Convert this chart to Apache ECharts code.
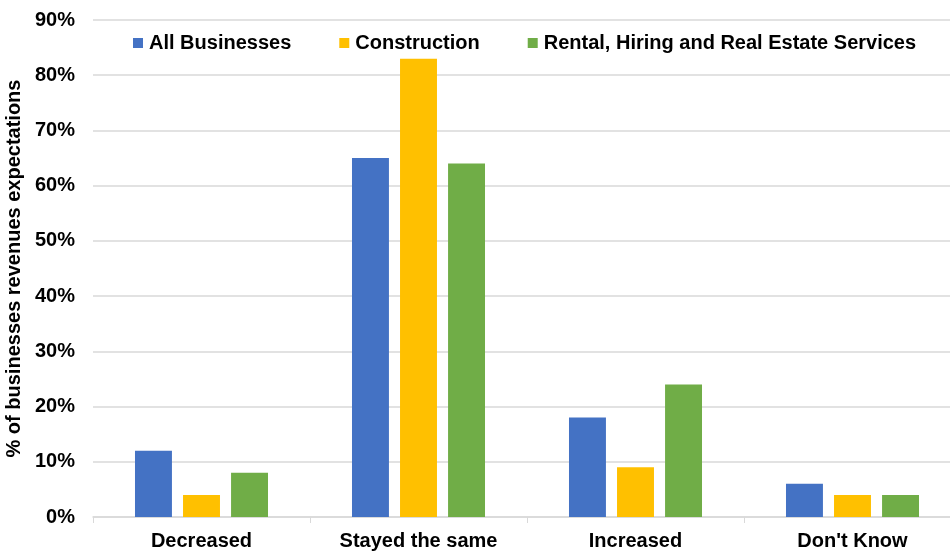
<!DOCTYPE html>
<html>
<head>
<meta charset="utf-8">
<script src="https://cdn.jsdelivr.net/npm/echarts@6/dist/echarts.min.js"></script>
<style>
  html, body { margin: 0; padding: 0; background: #fff; }
  #chart { width: 950px; height: 552px; }
</style>
</head>
<body>
<div id="chart"></div>
<script>
// Business revenue expectations by sector
const categories = ['Decreased', 'Stayed the same', 'Increased', "Don't Know"];
const allBusinesses = [12, 65, 18, 6];
const construction = [4, 83, 9, 4];
const rentalRealEstate = [8, 64, 24, 4];
const seriesNames = ['All Businesses', 'Construction', 'Rental, Hiring and Real Estate Services'];
const seriesColors = ['#4472C4', '#FFC000', '#70AD47'];

const font = 'Liberation Sans, Arial, sans-serif';

const chart = echarts.init(document.getElementById('chart'));
const values = [allBusinesses, construction, rentalRealEstate];

chart.setOption({
  animation: false,
  textStyle: { fontFamily: font },
  legend: {
    top: 28,
    left: 128,
    itemWidth: 10,
    itemHeight: 10,
    itemGap: 48,
    icon: 'rect',
    textStyle: { fontSize: 20, fontWeight: 'bold', color: '#000', fontFamily: font, padding: [0, 0, 0, 1] },
    data: seriesNames
  },
  // plot spans four 217px categories; the last one runs past the right edge
  grid: { left: 93, width: 868, top: 20, bottom: 35, containLabel: false, outerBoundsMode: 'none' },
  xAxis: {
    type: 'category',
    data: categories,
    axisLine: { lineStyle: { color: '#d9d9d9', width: 1.5 } },
    axisTick: { show: true, length: 6, lineStyle: { color: '#d9d9d9' } },
    axisLabel: { fontSize: 20, fontWeight: 'bold', color: '#000', margin: 14, fontFamily: font }
  },
  yAxis: {
    type: 'value',
    min: 0,
    max: 90,
    interval: 10,
    name: '% of businesses revenues expectations',
    nameLocation: 'middle',
    nameGap: 61,
    nameRotate: 90,
    nameTextStyle: { fontSize: 20, fontWeight: 'bold', color: '#000', fontFamily: font },
    axisLine: { show: false },
    axisTick: { show: false },
    axisLabel: { formatter: '{value}%', fontSize: 20, fontWeight: 'bold', color: '#000', margin: 18, fontFamily: font },
    splitLine: { lineStyle: { color: '#d9d9d9', width: 1.5 } }
  },
  series: seriesNames.map((name, i) => ({
    name,
    type: 'bar',
    data: values[i],
    itemStyle: { color: seriesColors[i] },
    barGap: '30%',
    barCategoryGap: '38.7%'
  }))
});
</script>
</body>
</html>
